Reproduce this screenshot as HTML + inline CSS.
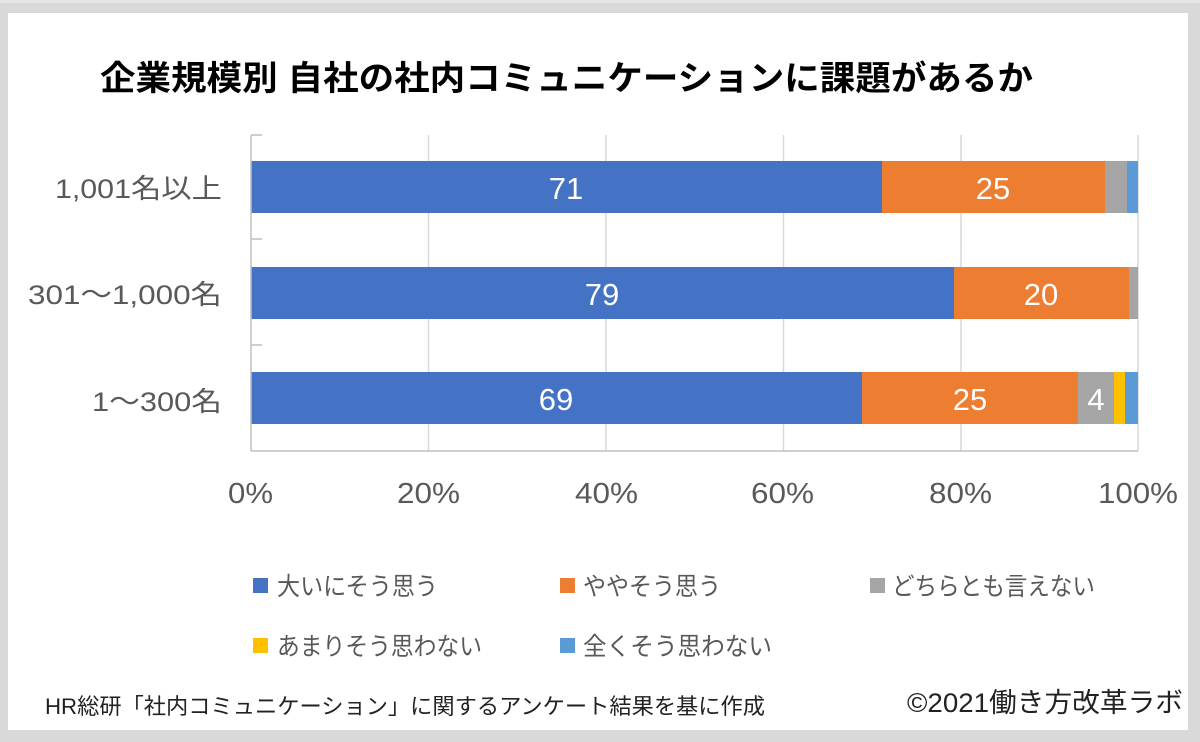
<!DOCTYPE html>
<html>
<head>
<meta charset="utf-8">
<style>
  html, body { margin:0; padding:0; width:1200px; height:742px; overflow:hidden; background:#d9d9d9; }
  svg { display:block; }
  .jp { font-family: "Liberation Sans", "Noto Sans CJK JP", sans-serif; }
</style>
</head>
<body>
<svg width="1200" height="742" viewBox="0 0 1200 742" xmlns="http://www.w3.org/2000/svg">
  <rect x="0" y="0" width="1200" height="742" fill="#d9d9d9"/>
  <rect x="0" y="0" width="1200" height="3" fill="#e6e6e6"/>
  <rect x="8" y="13" width="1180" height="717" fill="#ffffff"/>

  <!-- Title -->
  <text class="jp" x="100" y="90" font-size="34" font-weight="bold" fill="#000" textLength="933" lengthAdjust="spacingAndGlyphs">企業規模別 自社の社内コミュニケーションに課題があるか</text>

  <!-- gridlines -->
  <g stroke="#d9d9d9" stroke-width="1.5">
    <line x1="428.5" y1="135" x2="428.5" y2="451"/>
    <line x1="606" y1="135" x2="606" y2="451"/>
    <line x1="783.5" y1="135" x2="783.5" y2="451"/>
    <line x1="961" y1="135" x2="961" y2="451"/>
    <line x1="1138" y1="135" x2="1138" y2="451"/>
  </g>

  <!-- Bars -->
  <!-- bar 1 -->
  <rect x="251" y="161" width="631" height="52" fill="#4472c4"/>
  <rect x="882" y="161" width="223" height="52" fill="#ed7d31"/>
  <rect x="1105" y="161" width="22" height="52" fill="#a5a5a5"/>
  <rect x="1127" y="161" width="11" height="52" fill="#5b9bd5"/>
  <!-- bar 2 -->
  <rect x="251" y="267" width="703" height="52" fill="#4472c4"/>
  <rect x="954" y="267" width="175" height="52" fill="#ed7d31"/>
  <rect x="1129" y="267" width="9" height="52" fill="#a5a5a5"/>
  <!-- bar 3 -->
  <rect x="251" y="372" width="611" height="52" fill="#4472c4"/>
  <rect x="862" y="372" width="216" height="52" fill="#ed7d31"/>
  <rect x="1078" y="372" width="36" height="52" fill="#a5a5a5"/>
  <rect x="1114" y="372" width="11" height="52" fill="#ffc000"/>
  <rect x="1125" y="372" width="13" height="52" fill="#5b9bd5"/>

  <!-- axes -->
  <g stroke="#bfbfbf" stroke-width="1.5">
    <line x1="251" y1="135" x2="251" y2="451"/>
    <line x1="251" y1="451" x2="1138" y2="451"/>
    <line x1="251" y1="135" x2="262" y2="135"/>
    <line x1="251" y1="239" x2="262" y2="239"/>
    <line x1="251" y1="345" x2="262" y2="345"/>
  </g>

  <!-- data labels -->
  <g class="jp" font-size="31" fill="#ffffff" text-anchor="middle">
    <text x="566" y="199">71</text>
    <text x="993" y="199">25</text>
    <text x="602" y="305">79</text>
    <text x="1041" y="305">20</text>
    <text x="556" y="410">69</text>
    <text x="970" y="410">25</text>
    <text x="1096" y="410">4</text>
  </g>

  <!-- category labels -->
  <g class="jp" font-size="27" fill="#595959">
    <text x="55" y="198" textLength="167" lengthAdjust="spacingAndGlyphs">1,001名以上</text>
    <text x="28" y="304" textLength="194" lengthAdjust="spacingAndGlyphs">301～1,000名</text>
    <text x="92" y="411" textLength="130" lengthAdjust="spacingAndGlyphs">1～300名</text>
  </g>

  <!-- x tick labels -->
  <g class="jp" font-size="29" fill="#595959">
    <text x="228" y="503" textLength="45" lengthAdjust="spacingAndGlyphs">0%</text>
    <text x="397" y="503" textLength="63" lengthAdjust="spacingAndGlyphs">20%</text>
    <text x="575" y="503" textLength="63" lengthAdjust="spacingAndGlyphs">40%</text>
    <text x="751" y="503" textLength="63" lengthAdjust="spacingAndGlyphs">60%</text>
    <text x="929" y="503" textLength="63" lengthAdjust="spacingAndGlyphs">80%</text>
    <text x="1098" y="503" textLength="80" lengthAdjust="spacingAndGlyphs">100%</text>
  </g>

  <!-- legend -->
  <rect x="253" y="578" width="15" height="15" fill="#4472c4"/>
  <rect x="560" y="578" width="15" height="15" fill="#ed7d31"/>
  <rect x="870" y="578" width="15" height="15" fill="#a5a5a5"/>
  <rect x="253" y="638" width="15" height="15" fill="#ffc000"/>
  <rect x="560" y="638" width="15" height="15" fill="#5b9bd5"/>
  <g class="jp" font-size="25" fill="#595959">
    <text x="277" y="595" textLength="161" lengthAdjust="spacingAndGlyphs">大いにそう思う</text>
    <text x="583" y="595" textLength="138" lengthAdjust="spacingAndGlyphs">ややそう思う</text>
    <text x="892" y="595" textLength="203" lengthAdjust="spacingAndGlyphs">どちらとも言えない</text>
    <text x="277" y="655" textLength="205" lengthAdjust="spacingAndGlyphs">あまりそう思わない</text>
    <text x="583" y="655" textLength="189" lengthAdjust="spacingAndGlyphs">全くそう思わない</text>
  </g>

  <!-- footer -->
  <text class="jp" x="45" y="714" font-size="22" fill="#222" textLength="720" lengthAdjust="spacingAndGlyphs">HR総研「社内コミュニケーション」に関するアンケート結果を基に作成</text>
  <text class="jp" x="907" y="712" font-size="27" fill="#222" textLength="276" lengthAdjust="spacingAndGlyphs">©2021働き方改革ラボ</text>
</svg>
</body>
</html>
